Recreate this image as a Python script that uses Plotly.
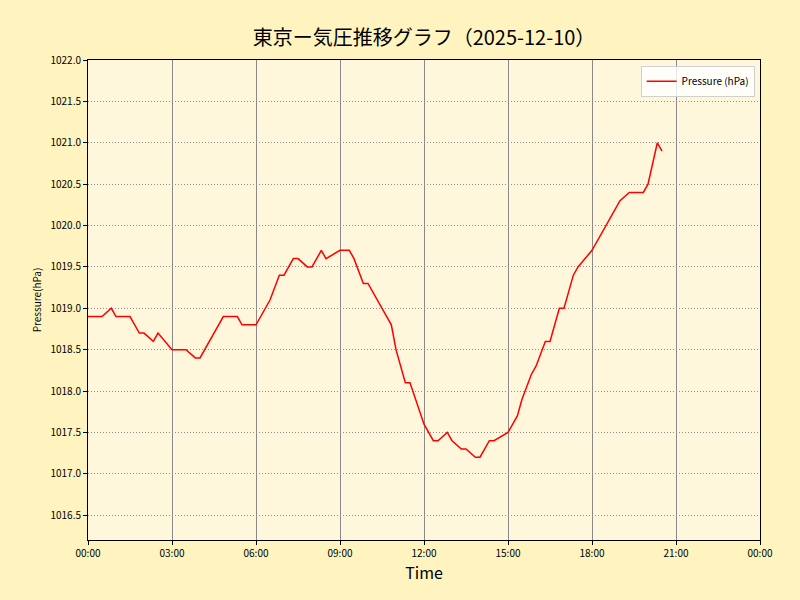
import plotly.graph_objects as go

DATE = "2025-12-10"

# readings picked off the chart (time, hPa)
times = ["00:00", "00:30", "00:50", "01:00", "01:30", "01:50", "02:00", "02:20",
         "02:30", "03:00", "03:30", "03:50", "04:00", "04:50", "05:20", "05:30",
         "06:00", "06:30", "06:50", "07:00", "07:20", "07:30", "07:50", "08:00",
         "08:20", "08:30", "09:00", "09:20", "09:30", "09:50", "10:00", "10:50",
         "11:00", "11:20", "11:30", "12:00", "12:20", "12:30", "12:50", "13:00",
         "13:20", "13:30", "13:50", "14:00", "14:20", "14:30", "15:00", "15:20",
         "15:30", "15:50", "16:00", "16:20", "16:30", "16:50", "17:00", "17:20",
         "17:30", "18:00", "19:00", "19:20", "19:50", "20:00", "20:20", "20:30"]
pressure = [1018.9, 1018.9, 1019.0, 1018.9, 1018.9, 1018.7, 1018.7, 1018.6,
            1018.7, 1018.5, 1018.5, 1018.4, 1018.4, 1018.9, 1018.9, 1018.8,
            1018.8, 1019.1, 1019.4, 1019.4, 1019.6, 1019.6, 1019.5, 1019.5,
            1019.7, 1019.6, 1019.7, 1019.7, 1019.6, 1019.3, 1019.3, 1018.8,
            1018.5, 1018.1, 1018.1, 1017.6, 1017.4, 1017.4, 1017.5, 1017.4,
            1017.3, 1017.3, 1017.2, 1017.2, 1017.4, 1017.4, 1017.5, 1017.7,
            1017.9, 1018.2, 1018.3, 1018.6, 1018.6, 1019.0, 1019.0, 1019.4,
            1019.5, 1019.7, 1020.3, 1020.4, 1020.4, 1020.5, 1021.0, 1020.9]

y_ticks = [1016.5 + 0.5 * i for i in range(12)]

x = [f"{DATE} {t}" for t in times]

font = "Noto Sans CJK JP, Noto Sans, sans-serif"

fig = go.Figure()
fig.add_trace(go.Scatter(x=x, y=pressure, mode="lines", name="Pressure (hPa)",
                         line=dict(color="red", width=1.5)))

fig.update_layout(
    width=800, height=600,
    title=dict(text=f"東京ー気圧推移グラフ（{DATE}）", xref="paper", x=0.5, xanchor="center",
               y=0.937, yanchor="middle", font=dict(size=20, color="black")),
    font=dict(family=font, size=10, color="black"),
    paper_bgcolor="#FFF4BF",
    plot_bgcolor="#FFF7DB",
    margin=dict(l=88, r=40, t=60, b=60),
    legend=dict(x=0.992, y=0.988, xanchor="right", yanchor="top",
                bgcolor="rgba(255,255,255,0.8)", bordercolor="#d0d0d0",
                borderwidth=1, font=dict(size=10)),
    showlegend=True,
)

fig.update_xaxes(
    type="date",
    range=[f"{DATE} 00:00", "2025-12-11 00:00"],
    dtick=3 * 3600 * 1000, tick0=f"{DATE} 00:00", tickformat="%H:%M",
    showgrid=True, gridcolor="#8a8a8a", gridwidth=1,
    showline=True, linecolor="black", linewidth=1, mirror=True,
    ticks="outside", ticklen=4, tickcolor="black",
    title=dict(text="Time", font=dict(size=16), standoff=6),
    zeroline=False,
)
fig.update_yaxes(
    range=[1016.2, 1022.0],
    tickvals=y_ticks, tickformat=".1f",
    showgrid=True, gridcolor="#8f8f8f", gridwidth=1, griddash="1px,2px",
    showline=True, linecolor="black", linewidth=1, mirror=True,
    ticks="outside", ticklen=4, tickcolor="black",
    title=dict(text="Pressure(hPa)", font=dict(size=10), standoff=6),
    zeroline=False,
)

fig.write_html("out.html", config={"displayModeBar": False},
               post_script="document.body.style.margin='0';")
